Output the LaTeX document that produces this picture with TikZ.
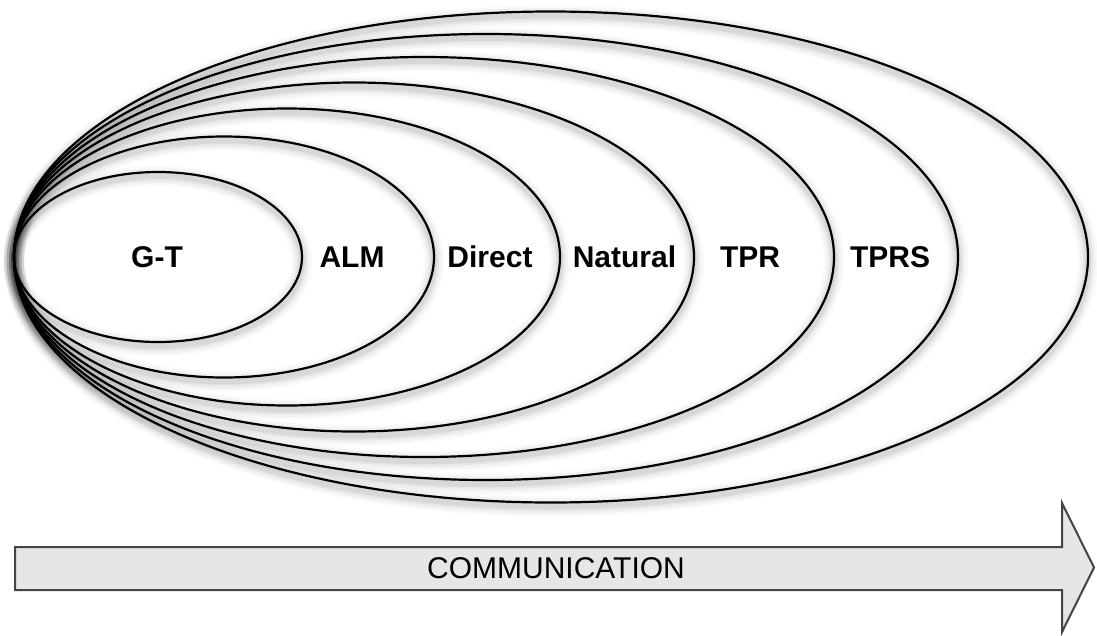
\documentclass[tikz,border=0pt]{standalone}
\usepackage{fontspec}
\setmainfont{Liberation Sans}
\definecolor{arrowfill}{HTML}{E6E6E6}
\definecolor{arrowedge}{HTML}{444444}
\begin{document}
\begin{tikzpicture}[x=1pt,y=-1pt,
  ring/.style={draw=black,line width=2.2pt},
  lbl/.style={font=\fontsize{30}{36}\selectfont\bfseries, anchor=base, inner sep=0pt},
  comm/.style={font=\fontsize{30}{36}\selectfont, anchor=base, inner sep=0pt},
  bigarrow/.style={draw=arrowedge, fill=arrowfill, line width=2pt, line join=miter}
]
\useasboundingbox (0,0) rectangle (1097,635);
\fill[white] (0,0) rectangle (1097,635);
% soft shadows of the rings
\foreach \cx/\rx/\ry in {551/537/245.5, 486/472/223, 424/410/200, 354/340/174.5, 287/273/148.5, 224/210/120.5, 158/144/85} {
  \foreach \w/\o in {20/0.025, 15/0.03, 10/0.045, 6/0.06} {
    \draw[black, opacity=\o, line width=\w pt] (\cx,261) ellipse [x radius=\rx, y radius=\ry];
  }
}
% rings
\foreach \cx/\rx/\ry in {551/537/245.5, 486/472/223, 424/410/200, 354/340/174.5, 287/273/148.5, 224/210/120.5, 158/144/85} {
  \draw[ring] (\cx,257) ellipse [x radius=\rx, y radius=\ry];
}
% labels
\node[lbl] (gt) at (157,267) {G-T};
\node[lbl] (alm) at (352,267) {ALM};
\node[lbl] (direct) at (490,267) {Direct};
\node[lbl] (natural) at (624.5,267) {Natural};
\node[lbl] (tpr) at (750,267) {TPR};
\node[lbl] (tprs) at (890,267) {TPRS};
% arrow
\draw[bigarrow] (15,547) -- (1062,547) -- (1062,503) -- (1094,567.5) -- (1062,632) -- (1062,590) -- (15,590) -- cycle;
\node[comm] (communication) at (556,578) {COMMUNICATION};
\end{tikzpicture}
\end{document}
